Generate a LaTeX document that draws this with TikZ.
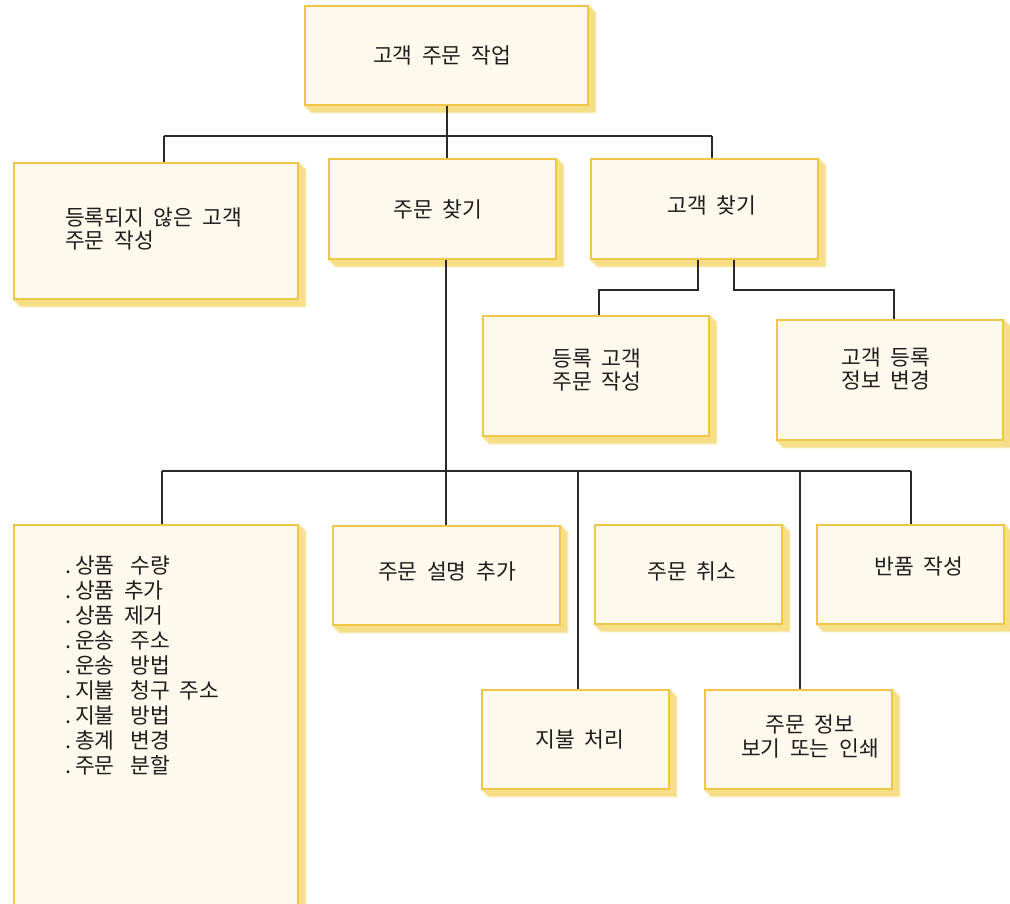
\documentclass[tikz,border=0pt]{standalone}
\usepackage{fontspec}
\newfontfamily\kr{Noto Sans CJK KR}
\usetikzlibrary{backgrounds,calc}
\definecolor{boxfill}{HTML}{FDF9EC}
\definecolor{boxline}{HTML}{EFC648}
\definecolor{shadowfill}{HTML}{F5DE85}
\definecolor{shadowline}{HTML}{F9E9AE}
\definecolor{connline}{HTML}{2A2A2A}
\definecolor{txt}{HTML}{1E1E1E}
\newcommand{\krfont}[1]{\kr\fontsize{21.5}{#1}\selectfont\spaceskip=9.5pt plus 1pt\relax}
\newcommand{\dbl}{\hspace{16pt}}
\newcommand{\dt}{.\hspace{4pt}}
\tikzset{
  box/.style={draw=boxline, fill=boxfill, line width=1.3pt, inner sep=0pt},
  lbl/.style={font=\krfont{23}, text=txt, inner sep=0pt},
  conn/.style={draw=connline, line width=1.3pt},
  shadow/.style={fill=shadowfill, draw=shadowline, line width=1.2pt, line join=miter},
}
\newcommand{\mkshadow}[1]{%
  \path[shadow] (#1.north east) -- ++(7,7) -- ($(#1.south east)+(7,7)$) -- ($(#1.south west)+(7,7)$) -- (#1.south west) -- cycle;}
\begin{document}
\begin{tikzpicture}[x=1pt,y=-1pt]
\useasboundingbox (0,0) rectangle (1010,903);
% boxes
\node[box, minimum width=283pt, minimum height=99pt] (top) at (446.5,55.5) {};
\node[box, minimum width=284pt, minimum height=136pt] (unreg) at (156,231) {};
\node[box, minimum width=227pt, minimum height=100pt] (findorder) at (442.5,209) {};
\node[box, minimum width=227pt, minimum height=100pt] (findcust) at (704.5,209) {};
\node[box, minimum width=226pt, minimum height=120pt] (regorder) at (596,376) {};
\node[box, minimum width=226pt, minimum height=120pt] (custedit) at (890,380) {};
\node[box, minimum width=284pt, minimum height=395pt] (list) at (156,722.5) {};
\node[box, minimum width=227pt, minimum height=99pt] (addnote) at (446.5,575.5) {};
\node[box, minimum width=187pt, minimum height=99pt] (cancel) at (688.5,574.5) {};
\node[box, minimum width=187pt, minimum height=99pt] (return) at (910.5,574.5) {};
\node[box, minimum width=187pt, minimum height=99pt] (pay) at (575.5,739.5) {};
\node[box, minimum width=187pt, minimum height=99pt] (view) at (798.5,739.5) {};
% shadows
\begin{scope}[on background layer]
\mkshadow{top}\mkshadow{unreg}\mkshadow{findorder}\mkshadow{findcust}
\mkshadow{regorder}\mkshadow{custedit}\mkshadow{list}\mkshadow{addnote}
\mkshadow{cancel}\mkshadow{return}\mkshadow{pay}\mkshadow{view}
\end{scope}
% texts
\node[lbl] (t-top) at (442,55) {고객 주문 작업};
\node[lbl, align=left, anchor=west] (t-unreg) at (65,229) {등록되지 않은 고객\\주문 작성};
\node[lbl] (t-findorder) at (438,209) {주문 찾기};
\node[lbl] (t-findcust) at (712,205) {고객 찾기};
\node[lbl, align=center] (t-regorder) at (597,370) {등록 고객\\주문 작성};
\node[lbl, align=center] (t-custedit) at (886,369) {고객 등록\\정보 변경};
\node[lbl, align=left, anchor=north west, font=\krfont{25}] (t-list) at (65,556)
  {\dt 상품\dbl 수량\\\dt 상품 추가\\\dt 상품 제거\\\dt 운송\dbl 주소\\\dt 운송\dbl 방법\\\dt 지불\dbl 청구 주소\\\dt 지불\dbl 방법\\\dt 총계\dbl 변경\\\dt 주문\dbl 분할};
\node[lbl] (t-addnote) at (447,571) {주문 설명 추가};
\node[lbl] (t-cancel) at (692,571) {주문 취소};
\node[lbl] (t-return) at (919,566) {반품 작성};
\node[lbl] (t-pay) at (580,739) {지불 처리};
\node[lbl, align=center, font=\krfont{24}] (t-view) at (810,736) {주문 정보\\보기 또는 인쇄};
% connectors level 1
\coordinate (j1) at (447,136);
\coordinate (jL) at (164,136);
\coordinate (jR) at (712,136);
\draw[conn] (j1 |- top.south) -- (j1);
\draw[conn] (jL) -- (jR);
\draw[conn] (jL) -- (jL |- unreg.north);
\draw[conn] (j1) -- (j1 |- findorder.north);
\draw[conn] (jR) -- (jR |- findcust.north);
% connectors from find customer
\coordinate (c1) at (698,290);
\coordinate (c2) at (599,290);
\coordinate (c3) at (734,290);
\coordinate (c4) at (894,290);
\draw[conn] (c1 |- findcust.south) -- (c1) -- (c2) -- (c2 |- regorder.north);
\draw[conn] (c3 |- findcust.south) -- (c3) -- (c4) -- (c4 |- custedit.north);
% connectors from find order
\coordinate (k) at (446,471);
\coordinate (kL) at (162,471);
\coordinate (kR) at (911,471);
\coordinate (kp) at (578,471);
\coordinate (kv) at (800,471);
\draw[conn] (k |- findorder.south) -- (k);
\draw[conn] (kL) -- (kR);
\draw[conn] (kL) -- (kL |- list.north);
\draw[conn] (k) -- (k |- addnote.north);
\draw[conn] (kp) -- (kp |- pay.north);
\draw[conn] (kv) -- (kv |- view.north);
\draw[conn] (kR) -- (kR |- return.north);
\end{tikzpicture}
\end{document}
